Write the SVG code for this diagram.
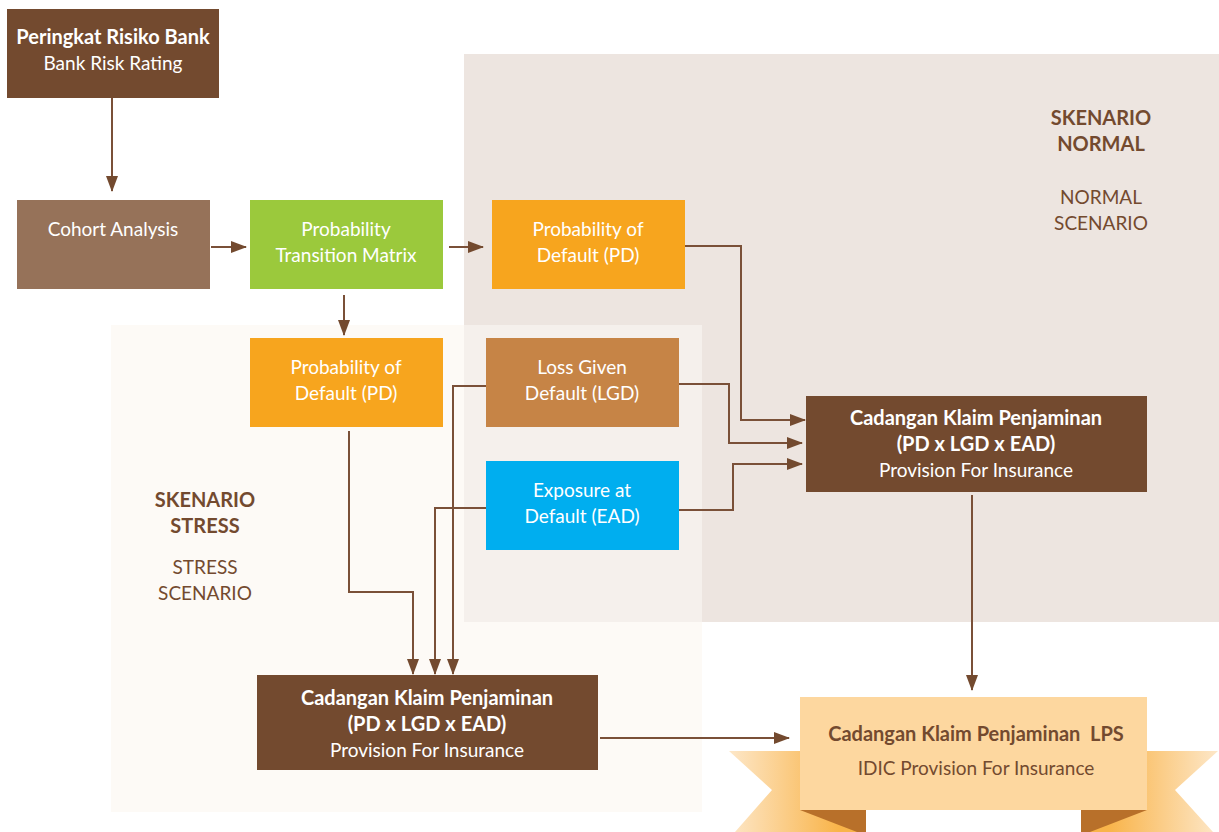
<svg xmlns="http://www.w3.org/2000/svg" width="1219" height="832" viewBox="0 0 1219 832">
  <defs>
    <style>
      text { font-family: "Lato", "Liberation Sans", sans-serif; font-size: 19px; text-anchor: middle; }
      .w { fill: #ffffff; }
      .b { font-weight: bold; font-size: 20px; }
      .br { fill: #734a2f; }
      .arr { fill: none; stroke: #7a5038; stroke-width: 2; marker-end: url(#head); }
    </style>
    <marker id="head" markerWidth="16" markerHeight="12" refX="15" refY="6" orient="auto" markerUnits="userSpaceOnUse">
      <path d="M0,0 L16,6 L0,12 Z" fill="#734a2f"/>
    </marker>
    <linearGradient id="tailL" x1="0" y1="0" x2="1" y2="0">
      <stop offset="0" stop-color="#fde7c8"/>
      <stop offset="0.8" stop-color="#f9b44a"/>
    </linearGradient>
    <linearGradient id="tailR" x1="0" y1="0" x2="1" y2="0">
      <stop offset="0.2" stop-color="#f9b44a"/>
      <stop offset="1" stop-color="#fde7c8"/>
    </linearGradient>
  </defs>

  <rect width="1219" height="832" fill="#ffffff"/>

  <!-- scenario panels -->
  <g id="panels">
    <rect x="464" y="54" width="755" height="568" fill="#ede5e0"/>
    <rect x="111" y="325" width="591" height="487" fill="#fdfaf6"/>
    <rect x="464" y="325" width="238" height="297" fill="#f5f0ec"/>
  </g>

  <g id="label-normal">
    <text x="1101" y="125" class="b br">SKENARIO</text>
    <text x="1101" y="151" class="b br">NORMAL</text>
    <text x="1101" y="204" class="br">NORMAL</text>
    <text x="1101" y="230" class="br">SCENARIO</text>
  </g>

  <g id="label-stress">
    <text x="205" y="507" class="b br">SKENARIO</text>
    <text x="205" y="533" class="b br">STRESS</text>
    <text x="205" y="574" class="br">STRESS</text>
    <text x="205" y="600" class="br">SCENARIO</text>
  </g>

  <!-- ribbon behind the final box -->
  <g id="ribbon">
    <polygon points="729,751 866,751 866,832 735,832 772,790" fill="url(#tailL)"/>
    <polygon points="800,810 866,810 866,832 857,832" fill="#b8702a"/>
    <polygon points="1081,751 1218,751 1175,790 1213,832 1081,832" fill="url(#tailR)"/>
    <polygon points="1081,810 1147,810 1090,832 1081,832" fill="#b8702a"/>
  </g>

  <!-- connectors -->
  <g id="connectors">
    <path class="arr" d="M112,98 V191"/>
    <path class="arr" d="M211,247 H246"/>
    <path class="arr" d="M449,247 H483"/>
    <path class="arr" d="M344,295 V335"/>
    <path class="arr" d="M685,246 H741 V420 H805"/>
    <path class="arr" d="M679,384 H729 V443 H802"/>
    <path class="arr" d="M679,510 H733 V464 H802"/>
    <path class="arr" d="M972,495 V690"/>
    <path class="arr" d="M349,431 V592 H413 V674"/>
    <path class="arr" d="M486,508 H435 V674"/>
    <path class="arr" d="M486,386 H453 V674"/>
    <path class="arr" d="M600,738 H789"/>
  </g>

  <g id="bank-rating">
    <rect x="7" y="9" width="212" height="89" fill="#734a2f"/>
    <text x="113" y="44" class="w b">Peringkat Risiko Bank</text>
    <text x="113" y="70" class="w">Bank Risk Rating</text>
  </g>

  <g id="cohort">
    <rect x="17" y="200" width="193" height="89" fill="#967259"/>
    <text x="113" y="236" class="w">Cohort Analysis</text>
  </g>

  <g id="transition-matrix">
    <rect x="250" y="200" width="193" height="89" fill="#9bc93c"/>
    <text x="346" y="236" class="w">Probability</text>
    <text x="346" y="262" class="w">Transition Matrix</text>
  </g>

  <g id="pd-normal">
    <rect x="492" y="200" width="193" height="89" fill="#f7a51e"/>
    <text x="588" y="236" class="w">Probability of</text>
    <text x="588" y="262" class="w">Default (PD)</text>
  </g>

  <g id="pd-stress">
    <rect x="250" y="338" width="193" height="89" fill="#f7a51e"/>
    <text x="346" y="374" class="w">Probability of</text>
    <text x="346" y="400" class="w">Default (PD)</text>
  </g>

  <g id="lgd">
    <rect x="486" y="338" width="193" height="89" fill="#c68446"/>
    <text x="582" y="374" class="w">Loss Given</text>
    <text x="582" y="400" class="w">Default (LGD)</text>
  </g>

  <g id="ead">
    <rect x="486" y="461" width="193" height="89" fill="#00aeef"/>
    <text x="582" y="497" class="w">Exposure at</text>
    <text x="582" y="523" class="w">Default (EAD)</text>
  </g>

  <g id="provision-normal">
    <rect x="806" y="396" width="341" height="96" fill="#734a2f"/>
    <text x="976" y="425" class="w b">Cadangan Klaim Penjaminan</text>
    <text x="976" y="451" class="w b">(PD x LGD x EAD)</text>
    <text x="976" y="477" class="w">Provision For Insurance</text>
  </g>

  <g id="provision-stress">
    <rect x="257" y="675" width="341" height="95" fill="#734a2f"/>
    <text x="427" y="705" class="w b">Cadangan Klaim Penjaminan</text>
    <text x="427" y="731" class="w b">(PD x LGD x EAD)</text>
    <text x="427" y="757" class="w">Provision For Insurance</text>
  </g>

  <g id="provision-lps">
    <rect x="800" y="697" width="347" height="113" fill="#fdd79f"/>
    <text x="976" y="741" class="b br" xml:space="preserve">Cadangan Klaim Penjaminan  LPS</text>
    <text x="976" y="775" class="br">IDIC Provision For Insurance</text>
  </g>
</svg>
